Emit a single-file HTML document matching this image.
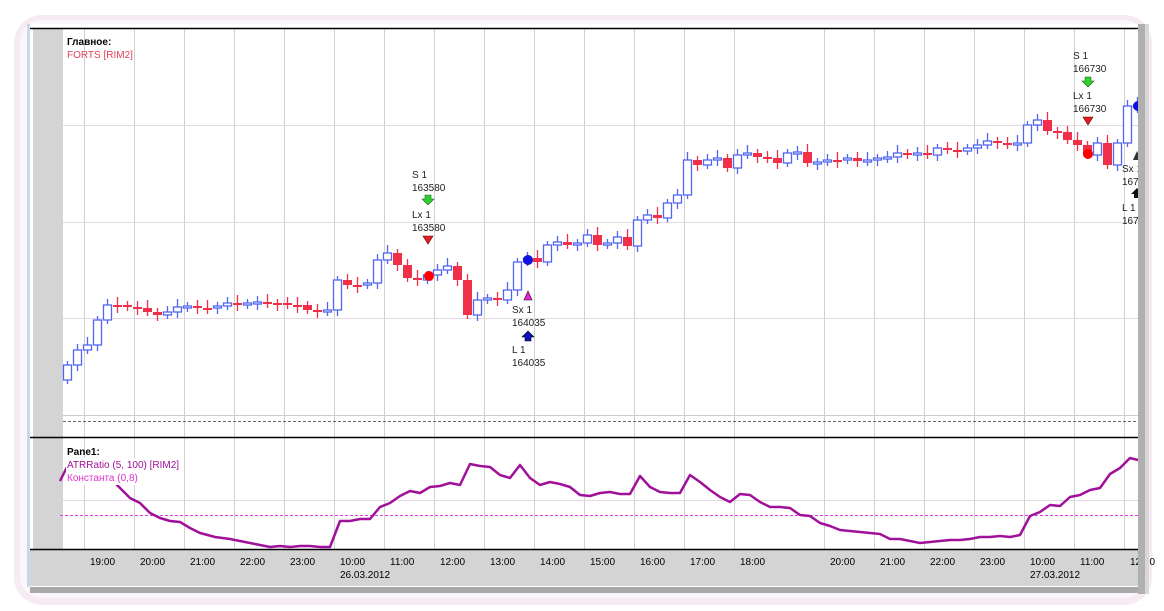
<!DOCTYPE html>
<html><head><meta charset="utf-8"><style>
html,body{margin:0;padding:0;background:#fff;}
body{width:1164px;height:611px;overflow:hidden;position:relative;font-family:"Liberation Sans","DejaVu Sans",sans-serif;}
</style></head><body>
<svg id="s" width="1164" height="611" xmlns="http://www.w3.org/2000/svg" style="position:absolute;left:0;top:0">
<rect x="14" y="15" width="1138" height="590" rx="28" fill="#f6eaf3"/>
<rect x="20" y="20" width="1126" height="578" rx="22" fill="#fbf6fa"/>
<rect x="30" y="27" width="1118" height="566" fill="#a9a9a9"/>
<rect x="27" y="24" width="1111" height="563" fill="#fff"/>
<rect x="27" y="24" width="3" height="563" fill="#c9d6f0"/>
<rect x="33" y="28" width="30" height="521" fill="#d4d4d4"/>
<rect x="30" y="549" width="1108" height="37" fill="#d4d4d4"/>
<g id="grid"></g>
<line x1="30" y1="28.5" x2="1138" y2="28.5" stroke="#000" stroke-width="1.5"/>
<line x1="30" y1="437.5" x2="1138" y2="437.5" stroke="#000" stroke-width="1.5"/>
<line x1="30" y1="549.5" x2="1138" y2="549.5" stroke="#000" stroke-width="1.5"/>
<line x1="63" y1="415.5" x2="1138" y2="415.5" stroke="#ccc" />
<line x1="63" y1="421.5" x2="1138" y2="421.5" stroke="#666" stroke-dasharray="3,2"/>
<line x1="60" y1="515.5" x2="1138" y2="515.5" stroke="#e040e0" stroke-dasharray="3,2"/>
<g id="candles"></g>
<polyline id="atr" fill="none" stroke="#a0109a" stroke-width="2.5" stroke-linejoin="round"/>
<g id="labels" font-size="11" fill="#000"></g>
<g font-size="10" fill="#222">
<text x="412" y="178">S 1</text><text x="412" y="191">163580</text>
<text x="412" y="218">Lx 1</text><text x="412" y="231">163580</text>
<text x="512" y="313">Sx 1</text><text x="512" y="326">164035</text>
<text x="512" y="353">L 1</text><text x="512" y="366">164035</text>
<text x="1073" y="59">S 1</text><text x="1073" y="72">166730</text>
<text x="1073" y="99">Lx 1</text><text x="1073" y="112">166730</text>
<text x="1122" y="172">Sx 1</text><text x="1122" y="185">167</text>
<text x="1122" y="211">L 1</text><text x="1122" y="224">167</text>
</g>
<g>
<path d="M425,195h6v4h3l-6,6l-6,-6h3z" fill="#30d030" stroke="#206020" stroke-width="0.6"/>
<path d="M423,236h10l-5,8z" fill="#e02020" stroke="#600" stroke-width="0.6"/>
<circle cx="429" cy="276" r="5" fill="#f00"/>
<circle cx="528" cy="260" r="5" fill="#1010e0"/>
<path d="M524,300h8l-4,-9z" fill="#e020e0" stroke="#400" stroke-width="0.6"/>
<path d="M525,341h6v-4h3l-6,-6l-6,6h3z" fill="#1010c0" stroke="#000" stroke-width="0.6"/>
<path d="M1085,77h6v4h3l-6,6l-6,-6h3z" fill="#30d030" stroke="#206020" stroke-width="0.6"/>
<path d="M1083,117h10l-5,8z" fill="#e02020" stroke="#600" stroke-width="0.6"/>
<circle cx="1088" cy="154" r="5" fill="#f00"/>
<circle cx="1138" cy="106" r="5" fill="#1010e0"/>
<path d="M1133,160h8l-4,-9z" fill="#333"/>
<path d="M1134,198h6v-4h3l-6,-6l-6,6h3z" fill="#111"/>
</g>
<text x="67" y="45" font-size="10" font-weight="bold">Главное:</text>
<text x="67" y="58" font-size="10" fill="#e0405a">FORTS [RIM2]</text>
<rect x="66" y="458" width="112" height="27" fill="#fff"/>
<text x="67" y="455" font-size="10" font-weight="bold">Pane1:</text>
<text x="67" y="468" font-size="10" fill="#a0109a">ATRRatio (5, 100) [RIM2]</text>
<text x="67" y="481" font-size="10" fill="#e030d0">Константа (0,8)</text>
<rect x="1138" y="24" width="10" height="570" fill="#b0b0b0"/>
<rect x="1145" y="24" width="4" height="570" fill="#d8d8d8"/>
</svg>
<script>
(function(){
var NS="http://www.w3.org/2000/svg";
function el(p,t,a,txt){var e=document.createElementNS(NS,t);for(var k in a)e.setAttribute(k,a[k]);if(txt)e.textContent=txt;p.appendChild(e);return e;}
var g=document.getElementById('grid');
var gx=[];for(var x=84;x<=734;x+=50)gx.push(x);for(x=824;x<=1124;x+=50)gx.push(x);
gx.forEach(function(x){el(g,'line',{x1:x+.5,y1:29,x2:x+.5,y2:549,stroke:'#d0d0d0'});});
[125,222,318].forEach(function(y){el(g,'line',{x1:63,y1:y+.5,x2:1138,y2:y+.5,stroke:'#e4d8e2'});});
el(g,'line',{x1:63,y1:500.5,x2:1138,y2:500.5,stroke:'#e4d8e2'});
var c=[365,350,345,320,305,305,307,308,312,315,312,307,306,308,308,306,303,305,303,302,303,303,305,305,310,311,310,280,285,285,283,260,253,265,278,280,275,270,266,280,315,300,298,300,290,262,258,262,245,242,245,243,235,245,243,237,246,220,215,218,203,195,160,165,160,158,168,155,153,157,158,163,153,152,163,162,160,160,158,161,160,158,157,153,155,153,155,148,150,151,148,145,141,143,145,143,125,120,131,132,140,145,155,143,165,143,106,105];
var cg=document.getElementById('candles');
var o=380;
for(var i=0;i<c.length;i++){
 var cx=67+i*10,cl=c[i],up=cl<o;
 var t0=Math.min(o,cl),b0=Math.max(o,cl);if(b0-t0<2){b0=t0+2;}
 var col=up?'#5066f2':'#f03048';
 el(cg,'line',{x1:cx+.5,y1:t0-4-(i%3)*2,x2:cx+.5,y2:b0+4+(i%2)*2,stroke:col,'stroke-width':1.3});
 if(up) el(cg,'rect',{x:cx-3.5,y:t0,width:8,height:b0-t0,fill:'#fff',stroke:col,'stroke-width':1.3});
 else el(cg,'rect',{x:cx-4,y:t0,width:9,height:b0-t0,fill:col});
 o=cl;
}
var a=[[60,481],[68,465],[100,470],[115,483],[130,498],[140,503],[150,513],[160,518],[170,521],[180,522],[190,528],[200,533],[215,537],[230,539],[245,542],[260,545],[270,547],[280,546],[290,547],[300,546],[310,546],[320,547],[330,547],[340,521],[350,521],[360,519],[370,519],[380,507],[390,503],[400,496],[410,491],[420,493],[430,487],[440,486],[450,483],[460,485],[470,464],[480,466],[490,467],[500,475],[510,478],[520,465],[530,478],[540,485],[550,482],[560,484],[570,487],[580,495],[590,496],[600,493],[610,492],[620,494],[630,494],[640,476],[650,487],[660,492],[670,493],[680,493],[690,475],[700,482],[710,490],[720,497],[730,502],[740,494],[750,495],[760,502],[770,507],[780,507],[790,508],[800,515],[810,516],[820,523],[830,526],[840,530],[850,531],[860,532],[870,533],[880,534],[890,539],[900,539],[910,541],[920,543],[930,542],[940,541],[950,540],[960,540],[970,539],[980,537],[990,537],[1000,536],[1010,537],[1020,535],[1030,516],[1040,512],[1050,505],[1060,506],[1070,497],[1080,495],[1090,490],[1100,488],[1110,474],[1120,468],[1130,458],[1138,460]];
document.getElementById('atr').setAttribute('points',a.map(function(p){return p.join(',')}).join(' '));
var L=document.getElementById('labels');
var names=['19:00','20:00','21:00','22:00','23:00','10:00','11:00','12:00','13:00','14:00','15:00','16:00','17:00','18:00','20:00','21:00','22:00','23:00','10:00','11:00','12:00'];
gx.forEach(function(x,i){el(L,'text',{x:x+6,y:565,'font-size':10},names[i]);});
el(L,'text',{x:340,y:578,'font-size':10},'26.03.2012');
el(L,'text',{x:1030,y:578,'font-size':10},'27.03.2012');
})();
</script>
</body></html>
